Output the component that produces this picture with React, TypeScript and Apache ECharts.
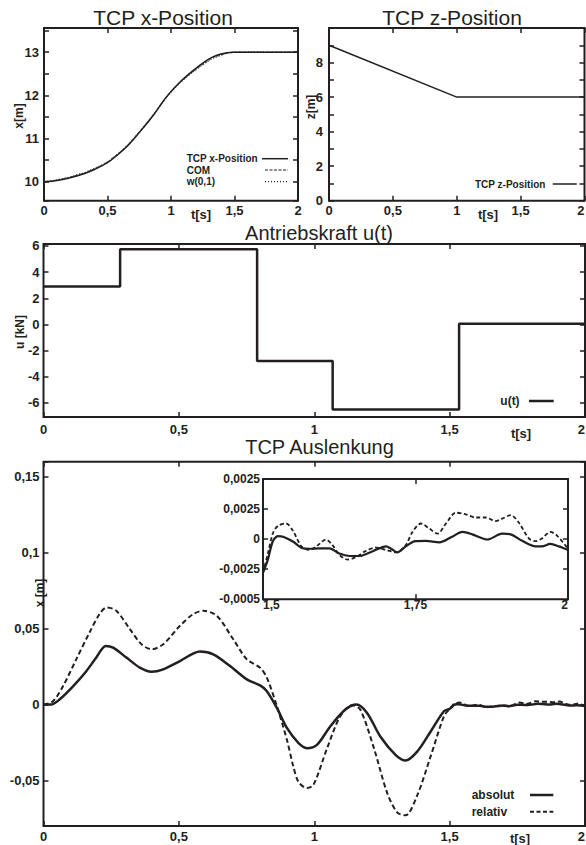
import React, { useEffect, useRef } from 'react';
import * as echarts from 'echarts';

const C = '#231f20';
const FONT = '"Liberation Sans", Arial, Helvetica, sans-serif';

// ---------- Panel 1: TCP x-Position ----------
const T_X = [0, 0.063, 0.126, 0.19, 0.257, 0.32, 0.388, 0.45, 0.52, 0.651, 0.756, 0.861, 0.966, 1.071, 1.176, 1.281, 1.33, 1.386, 1.44, 1.49, 1.6, 2.0];
const TCP_X = [10.0, 10.01, 10.04, 10.08, 10.13, 10.19, 10.27, 10.36, 10.48, 10.81, 11.16, 11.54, 11.97, 12.31, 12.58, 12.81, 12.89, 12.95, 12.985, 13.0, 13.0, 13.0];
const COM_X = [10.0, 10.02, 10.05, 10.09, 10.15, 10.2, 10.29, 10.37, 10.5, 10.82, 11.17, 11.55, 11.97, 12.3, 12.56, 12.78, 12.87, 12.93, 12.98, 13.0, 13.0, 13.0];
const W_X = [10.0, 10.02, 10.06, 10.1, 10.16, 10.21, 10.3, 10.38, 10.5, 10.82, 11.16, 11.54, 11.96, 12.29, 12.55, 12.77, 12.86, 12.92, 12.975, 12.995, 13.0, 13.0];

// ---------- Panel 2: TCP z-Position ----------
const T_Z = [0, 1, 2];
const TCP_Z = [9, 6, 6];

// ---------- Panel 3: Antriebskraft u(t) ----------
const T_U = [0, 0.283, 0.789, 1.068, 1.535, 2];
const U = [2.9, 5.75, -2.8, -6.5, 0.05, 0.05];

// ---------- Panel 4: TCP Auslenkung ----------
const T_ABS_MAIN = [0, 0.028, 0.059, 0.109, 0.158, 0.195, 0.23, 0.257, 0.306, 0.356, 0.399, 0.442, 0.504, 0.578, 0.627, 0.689, 0.751, 0.8, 0.825, 0.862, 0.899, 0.942, 0.973, 1.01, 1.059, 1.115, 1.156, 1.195, 1.244, 1.3, 1.337, 1.38, 1.43, 1.479];
const ABS_MAIN = [0, 0, 0.0033, 0.012, 0.022, 0.031, 0.0386, 0.0375, 0.031, 0.0243, 0.0216, 0.0232, 0.0287, 0.0349, 0.0331, 0.0254, 0.0166, 0.0126, 0.0088, -0.0022, -0.0154, -0.0254, -0.0287, -0.0265, -0.0144, -0.0033, 0, -0.0055, -0.021, -0.0331, -0.0369, -0.031, -0.0177, -0.0044];
const T_REL_MAIN = [0, 0.035, 0.072, 0.121, 0.17, 0.207, 0.234, 0.269, 0.319, 0.362, 0.399, 0.442, 0.504, 0.553, 0.59, 0.64, 0.701, 0.751, 0.8, 0.825, 0.862, 0.899, 0.923, 0.942, 0.973, 0.997, 1.047, 1.096, 1.14, 1.17, 1.22, 1.269, 1.306, 1.337, 1.38, 1.43, 1.479];
const REL_MAIN = [0, 0.0022, 0.0121, 0.0298, 0.0475, 0.0596, 0.064, 0.0618, 0.0497, 0.0397, 0.0364, 0.0397, 0.0519, 0.0596, 0.0618, 0.0585, 0.043, 0.0298, 0.0243, 0.0177, -0.0011, -0.0232, -0.041, -0.051, -0.055, -0.053, -0.029, -0.0077, -0.0005, -0.0033, -0.0285, -0.058, -0.071, -0.073, -0.06, -0.034, -0.0077];

// inset (t = 1.5 .. 2)
const T_ABS_IN = [1.5, 1.508, 1.516, 1.5245, 1.533, 1.549, 1.565, 1.576, 1.593, 1.609, 1.625, 1.642, 1.658, 1.68, 1.702, 1.71, 1.72, 1.734, 1.75, 1.767, 1.789, 1.81, 1.827, 1.843, 1.868, 1.892, 1.906, 1.925, 1.947, 1.957, 1.971, 1.985, 2.0];
const ABS_IN = [-0.0028, -0.0017, -0.0002, 0.00025, 0.0002, -0.0002, -0.00076, -0.0008, -0.00076, -0.00076, -0.0012, -0.0014, -0.0014, -0.001, -0.0006, -0.0008, -0.0011, -0.0006, -0.00016, -0.00014, -0.00027, 0.0002, 0.0006, 0.0004, -0.00003, 0.00046, 0.0004, -0.00014, -0.0006, -0.0006, -0.0004, -0.0006, -0.0009];
const T_REL_IN = [1.5, 1.508, 1.516, 1.5245, 1.538, 1.549, 1.563, 1.576, 1.59, 1.603, 1.614, 1.625, 1.639, 1.652, 1.668, 1.685, 1.702, 1.718, 1.734, 1.745, 1.759, 1.772, 1.786, 1.8, 1.816, 1.83, 1.849, 1.865, 1.881, 1.892, 1.906, 1.919, 1.936, 1.947, 1.957, 1.971, 1.982, 2.0];
const REL_IN = [-0.0028, -0.0012, 0.00046, 0.0011, 0.0013, 0.0007, -0.0006, -0.0009, -0.0005, -0.00003, -0.0005, -0.0013, -0.0017, -0.0015, -0.001, -0.0007, -0.0009, -0.0011, -0.0005, 0.0006, 0.0013, 0.0009, 0.00046, 0.0013, 0.0022, 0.0021, 0.0018, 0.0018, 0.0015, 0.0017, 0.002, 0.0014, 0.00005, -0.00016, 0.00005, 0.0006, 0.0003, -0.0008];

// inset y tick labels (as printed in the original)
const INSET_Y_LABELS = ['-0,0005', '-0,0025', '0', '0,0025', '0,0025'];

const pairs = (t: number[], v: number[]) => t.map((x, i) => [x, v[i]]);
const comma = (v: number) => String(parseFloat(v.toFixed(5))).replace('.', ',');
const isMult = (v: number, step: number) => {
  const r = v / step;
  return Math.abs(r - Math.round(r)) < 1e-6;
};

const tickStyle = { show: true, inside: true, length: 5, lineStyle: { color: C, width: 1.5 } };
const labelBase = { color: C, fontFamily: FONT, fontWeight: 'bold', fontSize: 13 };
const noLine = { show: false, onZero: false };

function xPair(grid: number, cfg: any, label: any) {
  const base = { type: 'value', gridIndex: grid, ...cfg, axisLine: noLine, splitLine: { show: false }, axisTick: tickStyle };
  return [
    { ...base, position: 'bottom', axisLabel: { ...labelBase, ...label } },
    { ...base, position: 'top', axisLabel: { show: false } },
  ];
}
function yPair(grid: number, cfg: any, label: any) {
  const base = { type: 'value', gridIndex: grid, ...cfg, axisLine: noLine, splitLine: { show: false }, axisTick: tickStyle };
  return [
    { ...base, position: 'left', axisLabel: { ...labelBase, ...label } },
    { ...base, position: 'right', axisLabel: { show: false } },
  ];
}

function txt(text: string, x: number, y: number, size: number, opts: any = {}) {
  return {
    type: 'text',
    x,
    y,
    rotation: opts.rotation || 0,
    z: 100,
    style: {
      text,
      fill: C,
      fontFamily: FONT,
      fontSize: size,
      fontWeight: opts.weight || 'bold',
      align: opts.align || 'center',
      textAlign: opts.align || 'center',
      verticalAlign: 'middle',
      textVerticalAlign: 'middle',
    },
  };
}
function seg(x1: number, x2: number, y: number, width: number, dash?: number[]) {
  return {
    type: 'line',
    z: 100,
    shape: { x1, y1: y, x2, y2: y },
    style: { stroke: C, lineWidth: width, lineDash: dash || null },
  };
}

export default function App() {
  const ref = useRef<HTMLDivElement>(null);
  useEffect(() => {
    const chart = echarts.init(ref.current!, null, { renderer: 'svg' });
    const gridBase = { show: true, borderColor: C, borderWidth: 2, backgroundColor: 'transparent', containLabel: false, outerBoundsMode: 'none' };
    const xMain = { min: 0, max: 2, interval: 0.5 };
    const option: any = {
      animation: false,
      backgroundColor: '#fff',
      grid: [
        { ...gridBase, left: 44, top: 28, width: 254, height: 172.7 },
        { ...gridBase, left: 329, top: 28, width: 255.5, height: 172.7 },
        { ...gridBase, left: 43.5, top: 244, width: 541.5, height: 173 },
        { ...gridBase, left: 43.5, top: 461.7, width: 541.5, height: 364.3 },
        { ...gridBase, left: 263, top: 479, width: 305, height: 120.3, backgroundColor: '#fff' },
      ],
      xAxis: [
        ...xPair(0, xMain, { formatter: comma, margin: 3 }),
        ...xPair(1, xMain, { formatter: comma, margin: 3, alignMaxLabel: 'right' }),
        ...xPair(2, xMain, { formatter: comma, margin: 6, alignMaxLabel: 'right' }),
        ...xPair(3, xMain, { formatter: comma, margin: 3.5, alignMaxLabel: 'right' }),
        ...xPair(4, { min: 1.5, max: 2, interval: 0.25 }, { formatter: comma, margin: 0, fontSize: 12, alignMinLabel: 'left', alignMaxLabel: 'right' }),
      ],
      yAxis: [
        ...yPair(0, { min: 9.56, max: 13.56, splitNumber: 8 }, { formatter: (v: number) => (isMult(v, 1) ? String(Math.round(v)) : ''), margin: 5 }),
        ...yPair(1, { min: 0, max: 10, interval: 1 }, { formatter: (v: number) => (isMult(v, 2) && v < 9.5 ? String(Math.round(v)) : ''), margin: 6 }),
        ...yPair(2, { min: -7.07, max: 6.15, splitNumber: 6 }, { formatter: (v: number) => (isMult(v, 2) ? String(Math.round(v) || 0) : ''), margin: 4 }),
        ...yPair(3, { min: -0.08, max: 0.16, splitNumber: 5 }, { formatter: (v: number) => (isMult(v, 0.05) ? comma(Math.abs(v) < 1e-9 ? 0 : v) : ''), margin: 4 }),
        ...yPair(4, { min: -0.005, max: 0.005, interval: 0.0025 }, {
          formatter: (v: number) => INSET_Y_LABELS[Math.round((v + 0.005) / 0.0025)] ?? '',
          margin: 3,
          fontSize: 12,
        }),
      ],
      series: [
        { name: 'w(0,1)', type: 'line', xAxisIndex: 0, yAxisIndex: 0, data: pairs(T_X, W_X), smooth: 0.3, symbol: 'none', lineStyle: { color: C, width: 1.2, type: [1, 2] } },
        { name: 'COM', type: 'line', xAxisIndex: 0, yAxisIndex: 0, data: pairs(T_X, COM_X), smooth: 0.3, symbol: 'none', lineStyle: { color: '#555', width: 1.2, type: [3, 1.5] } },
        { name: 'TCP x-Position', type: 'line', xAxisIndex: 0, yAxisIndex: 0, data: pairs(T_X, TCP_X), smooth: 0.3, symbol: 'none', lineStyle: { color: C, width: 1.5 } },
        { name: 'TCP z-Position', type: 'line', xAxisIndex: 2, yAxisIndex: 2, data: pairs(T_Z, TCP_Z), symbol: 'none', lineStyle: { color: C, width: 1.5 } },
        { name: 'u(t)', type: 'line', xAxisIndex: 4, yAxisIndex: 4, data: pairs(T_U, U), step: 'end', symbol: 'none', lineStyle: { color: C, width: 2.5 } },
        { name: 'relativ', type: 'line', xAxisIndex: 6, yAxisIndex: 6, data: pairs(T_REL_MAIN, REL_MAIN).concat(pairs(T_REL_IN, REL_IN)), smooth: 0.3, symbol: 'none', lineStyle: { color: C, width: 2, type: [5, 3] } },
        { name: 'absolut', type: 'line', xAxisIndex: 6, yAxisIndex: 6, data: pairs(T_ABS_MAIN, ABS_MAIN).concat(pairs(T_ABS_IN, ABS_IN)), smooth: 0.3, symbol: 'none', lineStyle: { color: C, width: 2.5 } },
        { name: 'relativ', type: 'line', xAxisIndex: 8, yAxisIndex: 8, data: pairs(T_REL_IN, REL_IN), smooth: 0.3, symbol: 'none', z: 5, lineStyle: { color: C, width: 1.8, type: [4, 2.5] } },
        { name: 'absolut', type: 'line', xAxisIndex: 8, yAxisIndex: 8, data: pairs(T_ABS_IN, ABS_IN), smooth: 0.3, symbol: 'none', z: 5, lineStyle: { color: C, width: 2.2 } },
      ],
      graphic: [
        // titles
        txt('TCP x-Position', 163, 17.5, 21, { weight: 'normal' }),
        txt('TCP z-Position', 452, 17.5, 21, { weight: 'normal' }),
        txt('Antriebskraft u(t)', 319, 233, 20, { weight: 'normal' }),
        txt('TCP Auslenkung', 319.5, 447, 20, { weight: 'normal' }),
        // axis names
        txt('x[m]', 19, 116, 12, { rotation: Math.PI / 2 }),
        txt('z[m]', 311, 107, 12, { rotation: Math.PI / 2 }),
        txt('u [kN]', 20, 332, 12, { rotation: Math.PI / 2 }),
        txt('x [m]', 39.5, 593, 12, { rotation: Math.PI / 2 }),
        txt('t[s]', 201, 214, 13),
        txt('t[s]', 488, 214, 13),
        txt('t[s]', 521, 433, 13),
        txt('t[s]', 520, 838, 13),
        // legend panel 1
        txt('TCP x-Position', 186.7, 158.7, 10, { align: 'left' }),
        txt('COM', 186.7, 170, 10, { align: 'left' }),
        txt('w(0,1)', 186.7, 181.7, 10, { align: 'left' }),
        seg(262, 288, 158.7, 1.5),
        seg(265, 288, 170, 1.2, [3, 1.5]),
        seg(265, 288, 181.7, 1.2, [1, 2]),
        // legend panel 2
        txt('TCP z-Position', 475, 184, 10, { align: 'left' }),
        seg(552.7, 576.7, 184, 1.5),
        // legend panel 3
        txt('u(t)', 500.3, 401, 12, { align: 'left' }),
        seg(529, 553.7, 401, 2.5),
        // legend panel 4
        txt('absolut', 471.7, 795, 12, { align: 'left' }),
        txt('relativ', 471.7, 811.7, 12, { align: 'left' }),
        seg(530, 553.3, 795, 2.5),
        seg(530, 553.3, 811.7, 2, [4, 2.5]),
      ],
    };
    chart.setOption(option);
    return () => chart.dispose();
  }, []);
  return <div ref={ref} style={{ position: 'fixed', left: 0, top: 0, width: 586, height: 845, background: '#fff' }} />;
}
